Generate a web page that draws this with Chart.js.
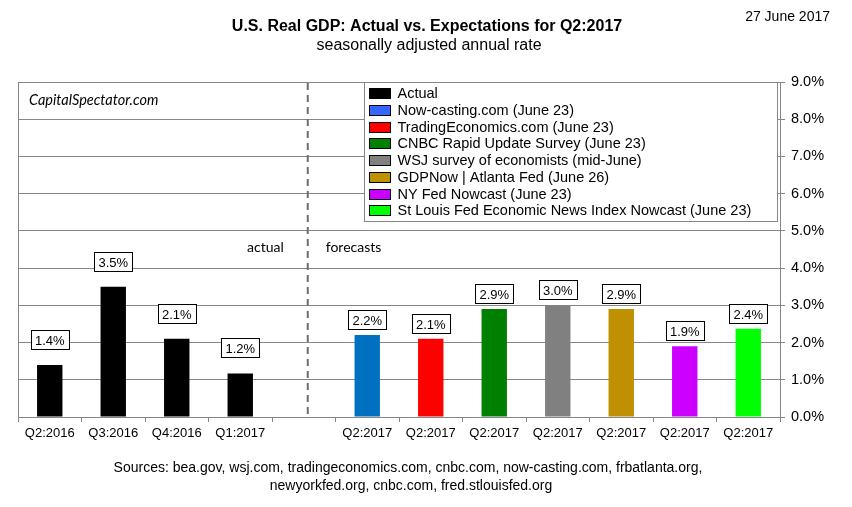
<!DOCTYPE html>
<html>
<head>
<meta charset="utf-8">
<script src="https://cdn.jsdelivr.net/npm/chart.js@4"></script>
<style>
html,body{margin:0;padding:0;background:#fff;}
#wrap{position:relative;width:852px;height:507px;}
canvas{display:block;}
</style>
</head>
<body>
<div id="wrap"><canvas id="c" width="852" height="507"></canvas></div>
<script>
// ---- data ----
const categories = ['Q2:2016','Q3:2016','Q4:2016','Q1:2017','','Q2:2017','Q2:2017','Q2:2017','Q2:2017','Q2:2017','Q2:2017','Q2:2017'];
const actualValues = [1.4, 3.5, 2.1, 1.17];
const forecastNames = ['Now-casting.com (June 23)','TradingEconomics.com (June 23)','CNBC Rapid Update Survey (June 23)','WSJ survey of economists (mid-June)','GDPNow | Atlanta Fed (June 26)','NY Fed Nowcast (June 23)','St Louis Fed Economic News Index Nowcast (June 23)'];
const forecastValues = [2.2, 2.1, 2.9, 3.0, 2.9, 1.9, 2.37];
const forecastBarColors = ['#0070C0','#FF0000','#008000','#808080','#BF9000','#CC00FF','#00FF00'];
const forecastLegendColors = ['#3366FF','#FF0000','#008000','#808080','#BF9000','#CC00FF','#00FF00'];
const yTicks = [0,1,2,3,4,5,6,7,8,9];
const dividerIndex = 4;

const FONT = '"Liberation Sans", Arial, sans-serif';
const SANS2 = 'Lato, "Open Sans", sans-serif';

// build datasets
const datasets = [];
datasets.push({
  label: 'Actual',
  data: categories.map((c,i) => i < actualValues.length ? actualValues[i] : null),
  backgroundColor: '#000000',
  legendColor: '#000000',
  labelGap: 16
});
forecastNames.forEach((name, k) => {
  const idx = dividerIndex + 1 + k;
  datasets.push({
    label: name,
    data: categories.map((c,i) => i === idx ? forecastValues[k] : null),
    backgroundColor: forecastBarColors[k],
    legendColor: forecastLegendColors[k],
    labelGap: 6
  });
});

const decorPlugin = {
  id: 'decor',
  beforeDatasetsDraw(chart) {
    const {ctx, chartArea: a, scales} = chart;
    // divider dashed line
    const x = scales.x.getPixelForValue(dividerIndex) + 4;
    ctx.save();
    ctx.strokeStyle = '#6E6E6E';
    ctx.lineWidth = 2;
    ctx.setLineDash([7,5]);
    ctx.beginPath();
    ctx.moveTo(x, a.top + 1);
    ctx.lineTo(x, a.bottom);
    ctx.stroke();
    ctx.setLineDash([]);
    // actual / forecasts text
    ctx.fillStyle = '#000';
    ctx.font = '14px ' + SANS2;
    ctx.textBaseline = 'middle';
    const ty = scales.y.getPixelForValue(4.55);
    ctx.textAlign = 'right';
    ctx.fillText('actual', x - 24, ty);
    ctx.textAlign = 'left';
    ctx.fillText('forecasts', x + 18, ty);
    // watermark
    ctx.font = 'italic 14.5px ' + SANS2;
    ctx.fillText('CapitalSpectator.com', a.left + 11, a.top + 18);
    ctx.restore();
  },
  afterDatasetsDraw(chart) {
    const {ctx, chartArea: a} = chart;
    ctx.save();
    // value labels
    ctx.font = '13px ' + FONT;
    ctx.textAlign = 'center';
    ctx.textBaseline = 'middle';
    chart.data.datasets.forEach((ds, di) => {
      const meta = chart.getDatasetMeta(di);
      meta.data.forEach((el, i) => {
        const v = ds.data[i];
        if (v === null || v === undefined) return;
        const txt = v.toFixed(1) + '%';
        const w = Math.round(ctx.measureText(txt).width) + 8;
        const h = 19;
        const bottom = el.y - ds.labelGap;
        const left = Math.round(el.x - w/2) + 0.5;
        const top = Math.round(bottom - h) + 0.5;
        ctx.fillStyle = '#fff';
        ctx.fillRect(left, top, w, h);
        ctx.strokeStyle = '#000';
        ctx.lineWidth = 1;
        ctx.strokeRect(left, top, w, h);
        ctx.fillStyle = '#000';
        ctx.fillText(txt, el.x, top + h/2 + 1);
      });
    });
    // frame
    ctx.strokeStyle = '#868686';
    ctx.lineWidth = 1;
    ctx.strokeRect(Math.round(a.left)+0.5, Math.round(a.top)+0.5, Math.round(a.right-a.left), Math.round(a.bottom-a.top));
    // legend box
    const lx = 364.5, ly = Math.round(a.top)+0.5, lw = Math.round(a.right) - 3 - 364, lh = 139;
    ctx.fillStyle = '#fff';
    ctx.fillRect(lx, ly, lw, lh);
    ctx.strokeStyle = '#868686';
    ctx.strokeRect(lx, ly, lw, lh);
    ctx.font = '14.5px ' + FONT;
    ctx.textAlign = 'left';
    ctx.textBaseline = 'middle';
    chart.data.datasets.forEach((ds, di) => {
      const cy = ly + 10.5 + di * 16.76;
      ctx.fillStyle = ds.legendColor;
      ctx.fillRect(lx + 5, Math.round(cy - 5) + 0.5, 21, 10);
      ctx.strokeStyle = '#000';
      ctx.strokeRect(lx + 5, Math.round(cy - 5) + 0.5, 21, 10);
      ctx.fillStyle = '#000';
      ctx.fillText(ds.label, lx + 33, cy + 1);
    });
    ctx.restore();
  },
  afterDraw(chart) {
    const {ctx} = chart;
    ctx.save();
    ctx.fillStyle = '#000';
    ctx.textAlign = 'center';
    ctx.textBaseline = 'middle';
    ctx.font = 'bold 16px ' + FONT;
    ctx.fillText('U.S. Real GDP: Actual vs. Expectations for Q2:2017', 427, 27);
    ctx.font = '16px ' + FONT;
    ctx.fillText('seasonally adjusted annual rate', 429, 46);
    ctx.textAlign = 'right';
    ctx.font = '14px ' + FONT;
    ctx.fillText('27 June 2017', 830, 17);
    ctx.textAlign = 'center';
    ctx.font = '14px ' + FONT;
    ctx.fillText('Sources: bea.gov, wsj.com, tradingeconomics.com, cnbc.com, now-casting.com, frbatlanta.org,', 408, 468);
    ctx.fillText('newyorkfed.org, cnbc.com, fred.stlouisfed.org', 411, 486);
    ctx.restore();
  }
};

new Chart(document.getElementById('c'), {
  type: 'bar',
  data: { labels: categories, datasets },
  options: {
    responsive: false,
    animation: false,
    devicePixelRatio: 1,
    layout: { padding: { left: 18, top: 82, right: 0, bottom: 0 } },
    datasets: { bar: { grouped: false, categoryPercentage: 0.8, barPercentage: 0.5, borderWidth: 0 } },
    plugins: { legend: { display: false }, tooltip: { enabled: false }, title: { display: false } },
    scales: {
      x: {
        offset: true,
        afterFit(s) { s.height = 90; },
        grid: { offset: true, drawOnChartArea: false, drawTicks: true, tickLength: 5, color: '#868686' },
        border: { color: '#868686' },
        ticks: { color: '#000', font: { family: FONT, size: 13 }, padding: 4, maxRotation: 0, autoSkip: false }
      },
      y: {
        position: 'right',
        min: 0, max: 9,
        afterFit(s) { s.width = 72; },
        afterBuildTicks(s) { s.ticks = yTicks.map(v => ({ value: v })); },
        grid: { color: '#868686', drawTicks: true, tickLength: 5 },
        border: { color: '#868686' },
        ticks: { color: '#000', font: { family: FONT, size: 14.5 }, padding: 6, callback: v => v.toFixed(1) + '%' }
      }
    }
  },
  plugins: [decorPlugin]
});
</script>
</body>
</html>
